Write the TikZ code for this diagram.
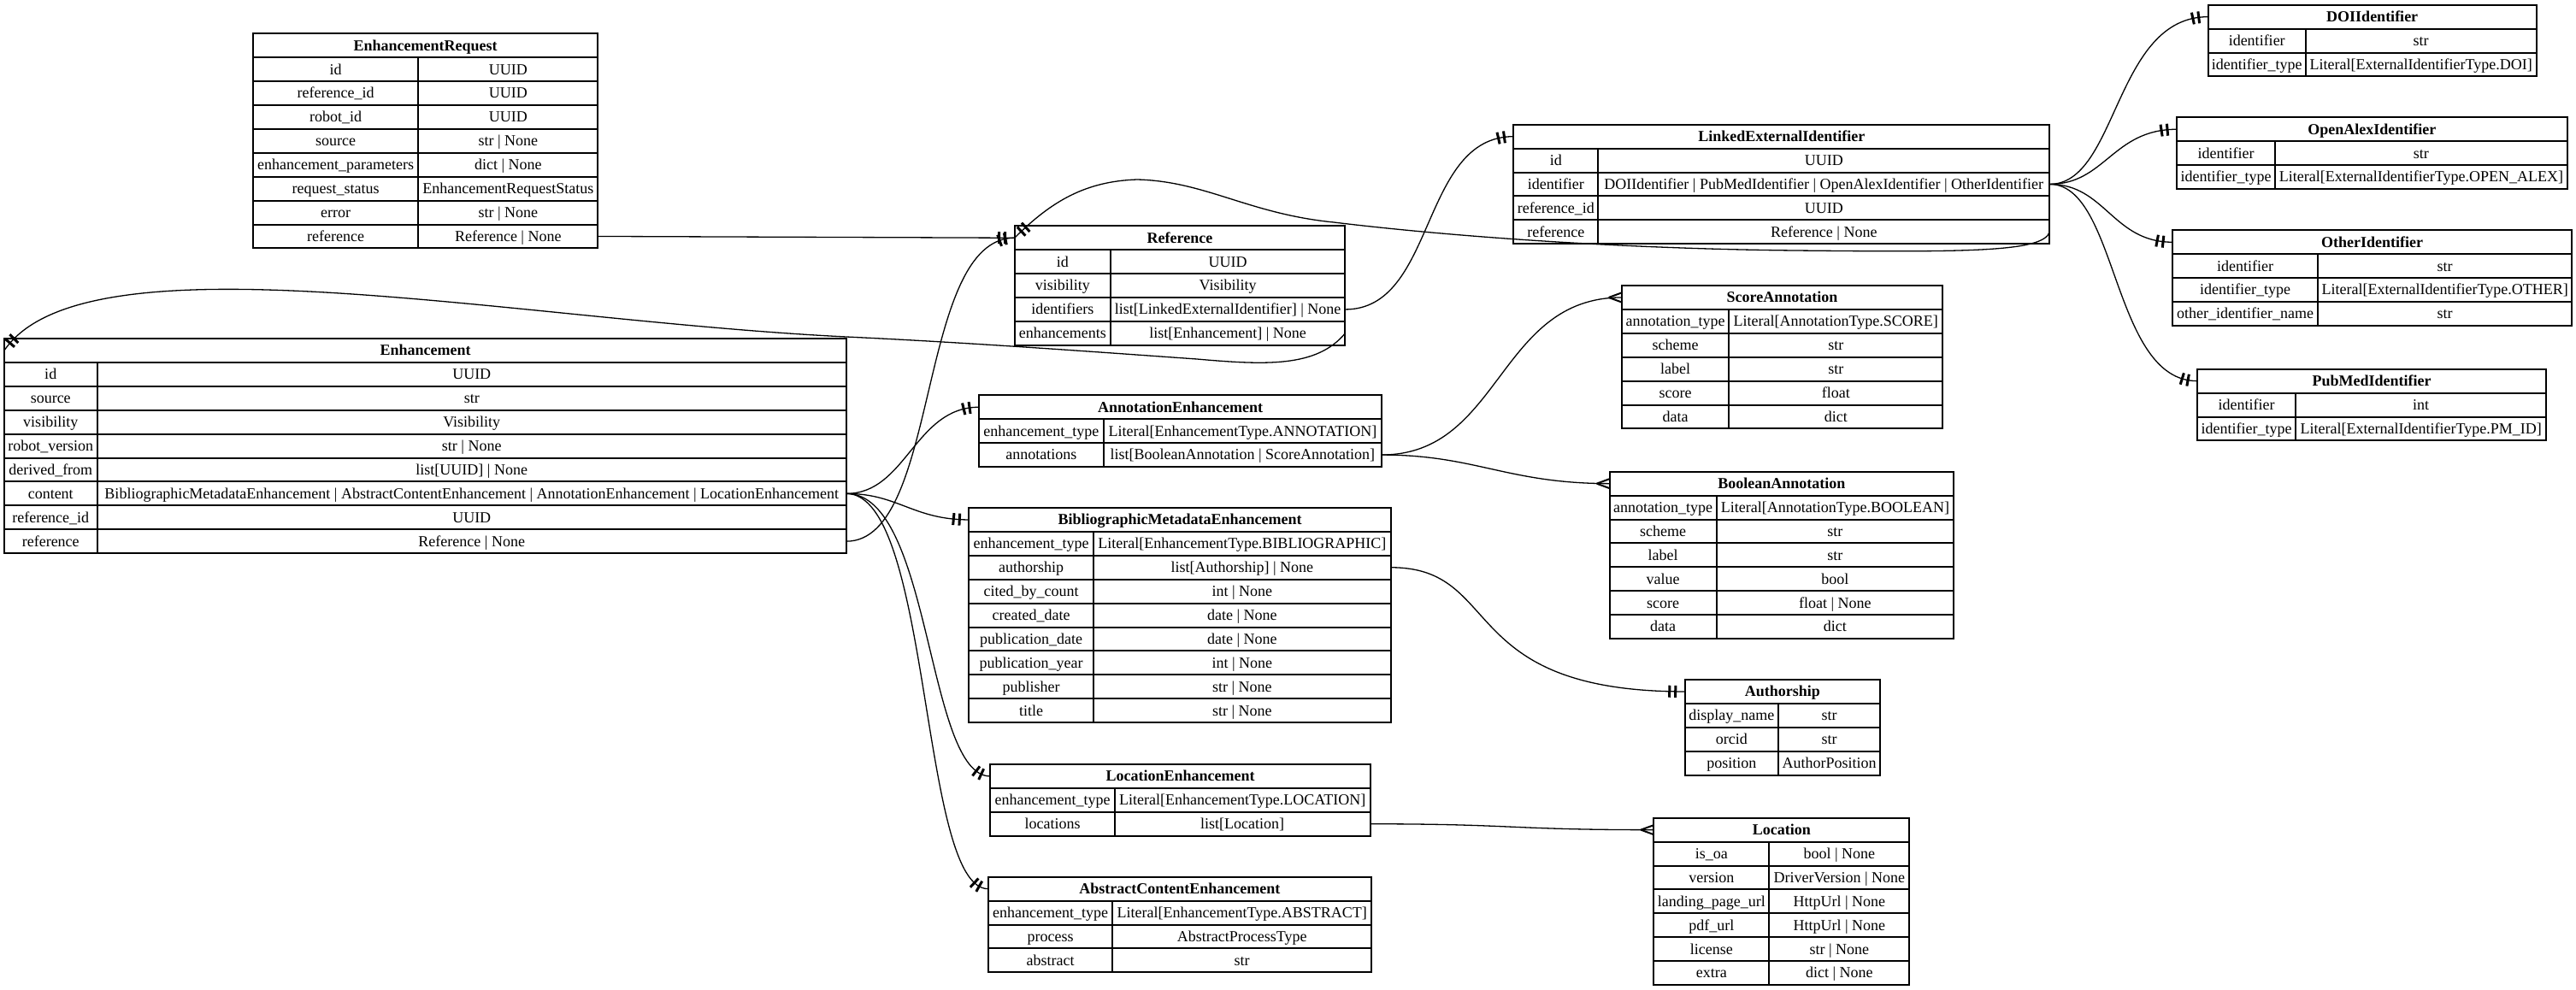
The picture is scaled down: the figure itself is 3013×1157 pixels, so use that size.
\documentclass[tikz,border=0pt]{standalone}
\usepackage{fontspec}
\setmainfont{Liberation Serif}
\usetikzlibrary{decorations.markings}
\tikzset{
  cell/.style={draw, line width=1pt, anchor=north west, minimum height=13.95pt,
    inner sep=0pt, outer sep=0pt, text height=7.2pt, text depth=1.3pt,
    font=\fontsize{9pt}{10pt}\selectfont},
  hdr/.style={cell, font=\fontsize{9pt}{10pt}\selectfont\bfseries},
  conn/.style={line width=0.65pt},
  onemark/.style={postaction={decorate,decoration={markings,
     mark=at position -5.5pt with {\draw[line width=1.5pt] (0pt,-3.5pt) -- (0pt,3.5pt);},
     mark=at position -9pt with {\draw[line width=1.5pt] (0pt,-3.5pt) -- (0pt,3.5pt);}}}},
  manymark/.style={postaction={decorate,decoration={markings,
     mark=at position -0.05pt with {\draw[line width=1pt] (-7.5pt,0pt) -- (0pt,2.75pt) (-7.5pt,0pt) -- (0pt,-2.75pt);}}}},
}
% #1 name, #2 left x, #3 top y, #4 key width, #5 value width, #6 title, #7 rows
\newcommand\ertable[7]{%
  \node[hdr, minimum width={(#4+#5)*0.5pt}] (#1) at (#2,#3) {#6};
  \foreach \k/\v [count=\i] in {#7}{%
    \node[cell, minimum width={#4*0.5pt}] (#1-k\i) at (#2,{#3+\i*27.9}) {\k};
    \node[cell, minimum width={#5*0.5pt}] (#1-\i) at ({#2+#4},{#3+\i*27.9}) {\v};
  }%
}
\begin{document}
\begin{tikzpicture}[x=0.5pt,y=-0.5pt]
\fill[white] (0,0) rectangle (3013,1157);
\useasboundingbox (0,0) rectangle (3013,1157);

\ertable{er}{296}{39.3}{193.3}{210}{EnhancementRequest}{id/UUID,reference\_id/UUID,robot\_id/UUID,source/str | None,enhancement\_parameters/dict | None,request\_status/EnhancementRequestStatus,error/str | None,reference/Reference | None}

\ertable{enh}{5}{396}{108.5}{876.5}{Enhancement}{id/UUID,source/str,visibility/Visibility,robot\_version/str | None,derived\_from/list[UUID] | None,content/BibliographicMetadataEnhancement | AbstractContentEnhancement | AnnotationEnhancement | LocationEnhancement,reference\_id/UUID,reference/Reference | None}

\ertable{ref}{1186.7}{264.3}{112.3}{274.3}{Reference}{id/UUID,visibility/Visibility,identifiers/list[LinkedExternalIdentifier] | None,enhancements/list[Enhancement] | None}

\ertable{lei}{1770.4}{145.7}{98.8}{528.1}{LinkedExternalIdentifier}{id/UUID,identifier/DOIIdentifier | PubMedIdentifier | OpenAlexIdentifier | OtherIdentifier,reference\_id/UUID,reference/Reference | None}

\ertable{doi}{2582.7}{5.7}{114}{270}{DOIIdentifier}{identifier/str,identifier\_type/Literal[ExternalIdentifierType.DOI]}

\ertable{oax}{2546}{137.3}{115}{341.7}{OpenAlexIdentifier}{identifier/str,identifier\_type/Literal[ExternalIdentifierType.OPEN\_ALEX]}

\ertable{oth}{2541}{269.3}{170}{297.3}{OtherIdentifier}{identifier/str,identifier\_type/Literal[ExternalIdentifierType.OTHER],other\_identifier\_name/str}

\ertable{pmi}{2570}{431.7}{115}{293.3}{PubMedIdentifier}{identifier/int,identifier\_type/Literal[ExternalIdentifierType.PM\_ID]}

\ertable{sca}{1896.7}{334}{125.6}{250}{ScoreAnnotation}{annotation\_type/Literal[AnnotationType.SCORE],scheme/str,label/str,score/float,data/dict}

\ertable{boa}{1882.7}{551.7}{125}{277.3}{BooleanAnnotation}{annotation\_type/Literal[AnnotationType.BOOLEAN],scheme/str,label/str,value/bool,score/float | None,data/dict}

\ertable{ane}{1145}{462.3}{145.7}{325.3}{AnnotationEnhancement}{enhancement\_type/Literal[EnhancementType.ANNOTATION],annotations/list[BooleanAnnotation | ScoreAnnotation]}

\ertable{bme}{1133.3}{594}{145.7}{347.7}{BibliographicMetadataEnhancement}{enhancement\_type/Literal[EnhancementType.BIBLIOGRAPHIC],authorship/list[Authorship] | None,cited\_by\_count/int | None,created\_date/date | None,publication\_date/date | None,publication\_year/int | None,publisher/str | None,title/str | None}

\ertable{loe}{1158.3}{894}{145.4}{299}{LocationEnhancement}{enhancement\_type/Literal[EnhancementType.LOCATION],locations/list[Location]}

\ertable{ace}{1155.7}{1025.7}{145.6}{302.7}{AbstractContentEnhancement}{enhancement\_type/Literal[EnhancementType.ABSTRACT],process/AbstractProcessType,abstract/str}

\ertable{aut}{1970.7}{795}{109.3}{119}{Authorship}{display\_name/str,orcid/str,position/AuthorPosition}

\ertable{loc}{1934.3}{956.7}{135}{164}{Location}{is\_oa/bool | None,version/DriverVersion | None,landing\_page\_url/HttpUrl | None,pdf\_url/HttpUrl | None,license/str | None,extra/dict | None}

\begin{scope}[conn]
% to Reference
\draw[onemark] (er-8.east) -- (ref.west);
\draw[onemark] (enh-8.east) .. controls +(110,0) and +(-115,0) .. (ref.west);
\draw[onemark] (lei-4.east) .. controls (2390,295) and (2300,295) .. (2100,293)
  .. controls (1900,291) and (1700,277) .. (1560,260)
  .. controls (1460,250) and (1410,212) .. (1330,210)
  .. controls (1270,212) and (1230,235) .. (ref.west);
% Reference to Enhancement and LinkedExternalIdentifier
\draw[onemark] (ref-4.east) .. controls (1540,430) and (1480,427) .. (1400,420)
  .. controls (1300,413) and (1140,401) .. (990,394)
  .. controls (600,375) and (100,270) .. (enh.west);
\draw[onemark] (ref-3.east) .. controls +(107,0) and +(-110,0) .. (lei.west);
% Enhancement content
\draw[onemark] (enh-6.east) .. controls +(70,0) and +(-75,0) .. (ane.west);
\draw[onemark] (enh-6.east) .. controls +(60,0) and +(-65,0) .. (bme.west);
\draw[onemark] (enh-6.east) .. controls +(100,0) and +(-75,0) .. (loe.west);
\draw[onemark] (enh-6.east) .. controls +(100,0) and +(-80,0) .. (ace.west);
% annotations
\draw[manymark] (ane-2.east) .. controls +(140,0) and +(-145,0) .. (sca.west);
\draw[manymark] (ane-2.east) .. controls +(110,0) and +(-120,0) .. (boa.west);
% authorship, locations
\draw[onemark] (bme-2.east) .. controls +(133,0) and +(-270,0) .. (aut.west);
\draw[manymark] (loe-2.east) .. controls +(170,0) and +(-170,0) .. (loc.west);
% identifiers
\draw[onemark] (lei-2.east) .. controls +(80,0) and +(-110,0) .. (doi.west);
\draw[onemark] (lei-2.east) .. controls +(65,0) and +(-75,0) .. (oax.west);
\draw[onemark] (lei-2.east) .. controls +(65,0) and +(-70,0) .. (oth.west);
\draw[onemark] (lei-2.east) .. controls +(80,0) and +(-100,0) .. (pmi.west);
\end{scope}
\end{tikzpicture}
\end{document}
